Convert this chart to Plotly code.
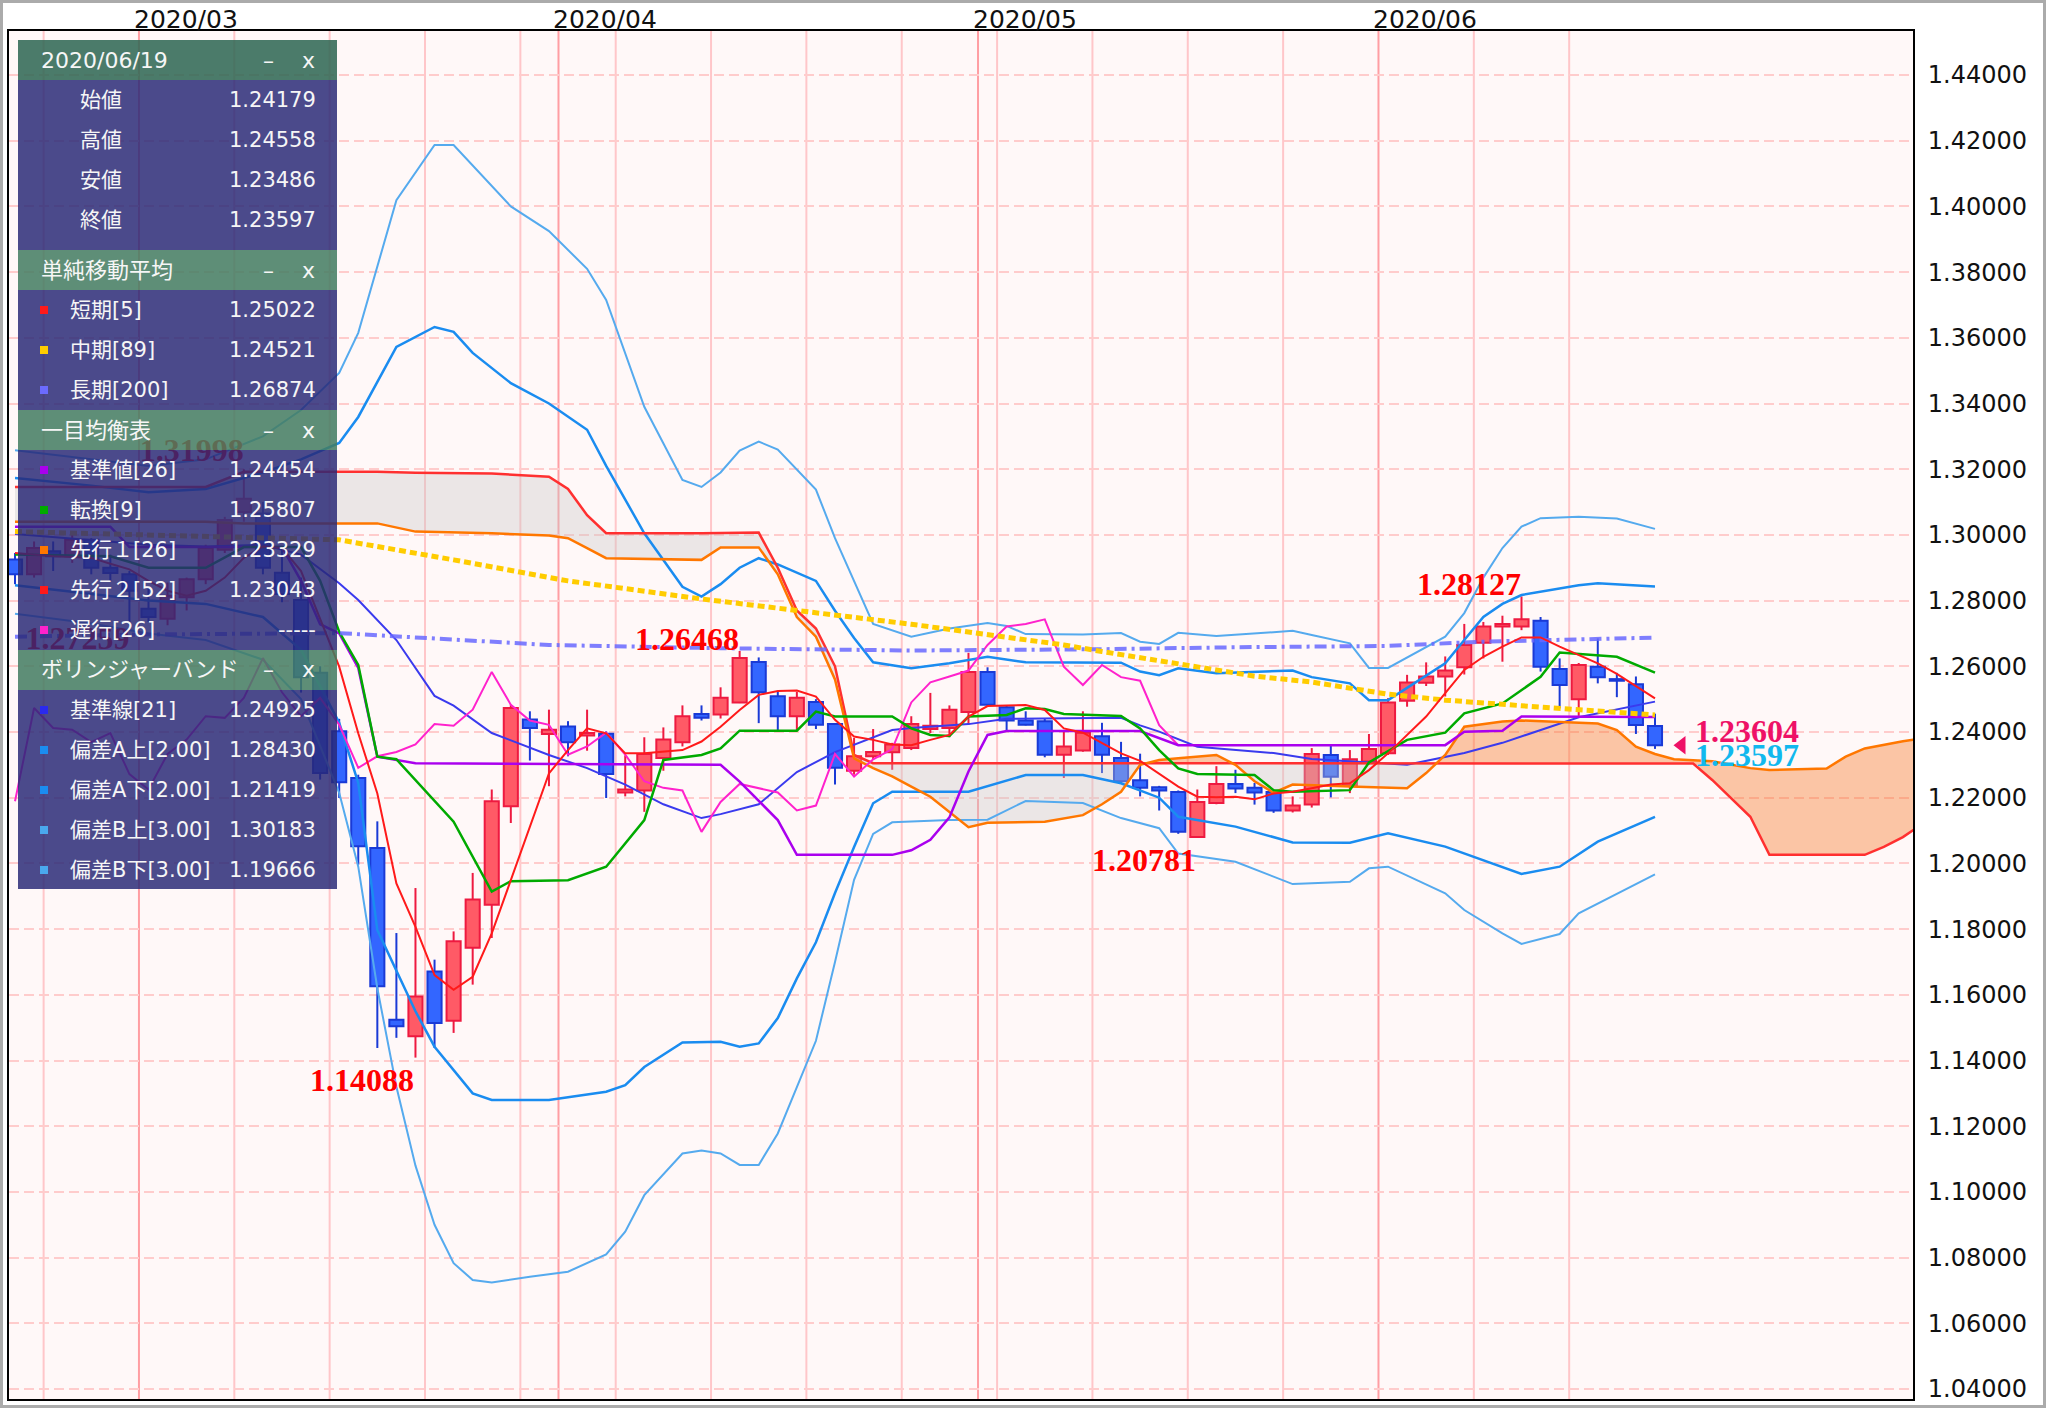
import numpy as np
import pandas as pd
import plotly.graph_objects as go

# ------------------------------------------------------------------
# Data (GBP/USD daily)
# x positions are trading-day offsets from 2020/03/02
# ------------------------------------------------------------------
dates = pd.bdate_range("2020-02-20", "2020-06-19")
day_pos = np.arange(len(dates)) - list(dates).index(pd.Timestamp("2020-03-02"))

opens = [1.2925, 1.2880, 1.2950, 1.2935, 1.2985, 1.2900, 1.2880,
         1.2775, 1.2745, 1.2810, 1.2865, 1.2955, 1.3070, 1.3065, 1.2885, 1.2802, 1.2580,
         1.2402, 1.2260, 1.2047, 1.1524, 1.1474, 1.1671, 1.1521, 1.1743, 1.1874, 1.2174,
         1.2438, 1.2394, 1.2417, 1.2389, 1.2395, 1.2216, 1.2222, 1.2321, 1.2369, 1.2455,
         1.2453, 1.2490, 1.2613, 1.2509, 1.2448, 1.2491, 1.2424, 1.2282, 1.2326, 1.2338,
         1.2351, 1.2409, 1.2412, 1.2461, 1.2583, 1.2475, 1.2435, 1.2433, 1.2331, 1.2344,
         1.2387, 1.2321, 1.2253, 1.2232, 1.2217, 1.2080, 1.2184, 1.2242, 1.2230, 1.2217,
         1.2161, 1.2179, 1.2330, 1.2239, 1.2310, 1.2335, 1.2495, 1.2550, 1.2569, 1.2597,
         1.2672, 1.2721, 1.2721, 1.2739, 1.2592, 1.2500, 1.2599, 1.2561, 1.2545, 1.24179]
highs = [1.2945, 1.2980, 1.2980, 1.3010, 1.2990, 1.2940, 1.2890,
         1.2840, 1.2855, 1.2870, 1.2970, 1.3055, 1.31998, 1.3100, 1.2960, 1.2870, 1.2600,
         1.2440, 1.2270, 1.2128, 1.1788, 1.1925, 1.1707, 1.1793, 1.1971, 1.2225, 1.2483,
         1.2463, 1.2468, 1.2433, 1.2468, 1.2402, 1.2329, 1.2384, 1.2414, 1.2481, 1.2481,
         1.2536, 1.26468, 1.2627, 1.2524, 1.2522, 1.2500, 1.2427, 1.2382, 1.2409, 1.2367,
         1.2448, 1.2519, 1.2481, 1.2641, 1.2597, 1.2480, 1.2463, 1.2440, 1.2400, 1.2463,
         1.2428, 1.2370, 1.2334, 1.2236, 1.2222, 1.2225, 1.2296, 1.2285, 1.2245, 1.2225,
         1.2204, 1.2351, 1.2360, 1.2345, 1.2394, 1.2503, 1.2574, 1.2612, 1.2630, 1.2729,
         1.2735, 1.2754, 1.28127, 1.2750, 1.2624, 1.2610, 1.2685, 1.2580, 1.2569, 1.24558]
lows = [1.2850, 1.2870, 1.2890, 1.2915, 1.2880, 1.2860, 1.27259,
        1.2735, 1.2725, 1.2770, 1.2850, 1.2945, 1.3040, 1.2880, 1.2795, 1.2520, 1.2255,
        1.2199, 1.1996, 1.1438, 1.1469, 1.14088, 1.1438, 1.1484, 1.1631, 1.1773, 1.2123,
        1.2313, 1.2235, 1.2326, 1.2343, 1.2199, 1.2204, 1.2157, 1.2282, 1.2356, 1.2435,
        1.2441, 1.2488, 1.2427, 1.2402, 1.2404, 1.2409, 1.2240, 1.2270, 1.2317, 1.2285,
        1.2345, 1.2397, 1.2384, 1.2422, 1.2478, 1.2402, 1.2420, 1.2323, 1.2260, 1.2340,
        1.2275, 1.2245, 1.2204, 1.2161, 1.2090, 1.20781, 1.2180, 1.2214, 1.2179, 1.2154,
        1.2155, 1.2170, 1.2201, 1.2214, 1.2300, 1.2330, 1.2477, 1.2540, 1.2508, 1.2575,
        1.2624, 1.2614, 1.2710, 1.2584, 1.2472, 1.2449, 1.2548, 1.2506, 1.2394, 1.23486]
closes = [1.2880, 1.2960, 1.2935, 1.2985, 1.2900, 1.2884, 1.2830,
          1.2750, 1.2815, 1.2865, 1.2960, 1.3045, 1.3110, 1.2900, 1.2820, 1.2567, 1.2275,
          1.2247, 1.2052, 1.1626, 1.1504, 1.1595, 1.1514, 1.1763, 1.1890, 1.2189, 1.2473,
          1.2412, 1.2407, 1.2369, 1.2397, 1.2272, 1.2225, 1.2333, 1.2377, 1.2448, 1.2443,
          1.2504, 1.2625, 1.2521, 1.2448, 1.2504, 1.2422, 1.2291, 1.2326, 1.2339, 1.2362,
          1.2424, 1.2419, 1.2468, 1.2583, 1.2483, 1.2435, 1.2422, 1.2331, 1.2356, 1.2398,
          1.2331, 1.2250, 1.2230, 1.2222, 1.2096, 1.2187, 1.2242, 1.2228, 1.2216, 1.2161,
          1.2176, 1.2333, 1.2264, 1.2317, 1.2348, 1.2490, 1.2551, 1.2569, 1.2587, 1.2665,
          1.2721, 1.2729, 1.2743, 1.2599, 1.2543, 1.2604, 1.2567, 1.2556, 1.2421, 1.23597]

# simple moving averages
sma5_x = list(range(-7, 80))
sma5_y = [1.2945, 1.2940, 1.2935, 1.2933, 1.2930, 1.2912, 1.2895,
          1.2860, 1.2830, 1.2815, 1.2830, 1.2870, 1.2930, 1.2965, 1.2960, 1.2890, 1.2745,
          1.2599, 1.2396, 1.2213, 1.1939, 1.1807, 1.1660, 1.1615, 1.1655, 1.1787, 1.1949,
          1.2112, 1.2274, 1.2345, 1.2411, 1.2396, 1.2335, 1.2335, 1.2340, 1.2345, 1.2371,
          1.2416, 1.2467, 1.2513, 1.2525, 1.2526, 1.2508, 1.2437, 1.2386, 1.2376, 1.2362,
          1.2360, 1.2376, 1.2391, 1.2447, 1.2479, 1.2481, 1.2482, 1.2467, 1.2411, 1.2398,
          1.2366, 1.2335, 1.2312, 1.2274, 1.2234, 1.2203, 1.2201, 1.2203, 1.2195, 1.2213,
          1.2218, 1.2229, 1.2240, 1.2244, 1.2284, 1.2335, 1.2391, 1.2447, 1.2518, 1.2589,
          1.2629, 1.2660, 1.2688, 1.2688, 1.2660, 1.2634, 1.2609, 1.2577, 1.2540, 1.25022]
sma89_x = [-7, 0, 10, 16, 22, 29, 34, 40, 48, 50, 58, 61, 65, 68, 72, 79]
sma89_y = [1.3010, 1.3000, 1.2985, 1.2924, 1.2860, 1.2805, 1.2771, 1.2728, 1.2665,
           1.2645, 1.2570, 1.2552, 1.2515, 1.2497, 1.2480, 1.24521]
sma200_x = [-7, 0, 10, 15, 21, 30, 40, 45, 50, 57, 65, 70, 75, 79]
sma200_y = [1.2690, 1.2697, 1.2701, 1.2685, 1.2665, 1.2655, 1.2648, 1.2650, 1.2652,
            1.2658, 1.2662, 1.2675, 1.2682, 1.26874]

# ichimoku
tenkan_x = [-7, -2, 0, 3, 5, 8, 9, 10, 11, 12, 13, 14, 16, 18, 19, 22, 24, 26, 27, 29, 30,
            31, 34, 35, 36, 39, 40, 41, 42, 43, 45, 46, 47, 48, 51, 52, 53, 54, 55, 58, 59,
            60, 63, 64, 66, 68, 69, 71, 73, 74, 77, 79]
tenkan_y = [1.2940, 1.2935, 1.2900, 1.2900, 1.2963, 1.2963, 1.2860, 1.2705, 1.2604, 1.2325,
            1.2317, 1.2254, 1.2127, 1.1914, 1.1946, 1.1949, 1.1990, 1.2132, 1.2315, 1.2330,
            1.2350, 1.2404, 1.2404, 1.2462, 1.2447, 1.2447, 1.2411, 1.2391, 1.2388, 1.2447,
            1.2452, 1.2472, 1.2470, 1.2455, 1.2449, 1.2411, 1.2345, 1.2289, 1.2272, 1.2269,
            1.2223, 1.2218, 1.2223, 1.2307, 1.2376, 1.2398, 1.2457, 1.2487, 1.2568, 1.2642,
            1.2629, 1.25807]
kijun_x = [-7, -2, -1, 7, 8, 9, 10, 11, 12, 14, 30, 31, 33, 34, 39, 40, 41, 42, 43, 44, 45,
           52, 54, 68, 69, 71, 72, 79]
kijun_y = [1.3025, 1.3025, 1.2963, 1.2963, 1.2860, 1.2728, 1.2700, 1.2595, 1.2325, 1.2305,
           1.2300, 1.2249, 1.2132, 1.2026, 1.2026, 1.2040, 1.2072, 1.2140, 1.2280, 1.2391,
           1.2403, 1.2403, 1.2360, 1.2360, 1.2401, 1.2404, 1.2447, 1.24454]
chikou_x = list(range(-7, 55))
chikou_y = [1.2189, 1.2473, 1.2412, 1.2407, 1.2369, 1.2397, 1.2272, 1.2225, 1.2333, 1.2377,
            1.2448, 1.2443, 1.2504, 1.2625, 1.2521, 1.2448, 1.2504, 1.2422, 1.2291, 1.2326,
            1.2339, 1.2362, 1.2424, 1.2419, 1.2468, 1.2583, 1.2483, 1.2435, 1.2422, 1.2331,
            1.2356, 1.2398, 1.2331, 1.2250, 1.2230, 1.2222, 1.2096, 1.2187, 1.2242, 1.2228,
            1.2216, 1.2161, 1.2176, 1.2333, 1.2264, 1.2317, 1.2348, 1.2490, 1.2551, 1.2569,
            1.2587, 1.2665, 1.2721, 1.2729, 1.2743, 1.2599, 1.2543, 1.2604, 1.2567, 1.2556,
            1.2421, 1.23597]
cloud_x = [-7, 3, 5, 12, 14, 18, 21, 22, 23, 24, 29, 30, 32, 33, 34, 35, 36, 37, 38, 39,
           40, 41, 43, 44, 47, 49, 50, 51, 52, 53, 54, 56, 57, 58, 59, 60, 63, 66, 67, 68,
           69, 71, 72, 76, 77, 78, 79, 80, 81, 82, 84, 85, 88, 89, 90, 91, 92, 93]
senkou_a = [1.3040, 1.3040, 1.3035, 1.3035, 1.3010, 1.3005, 1.2998, 1.2990, 1.2960, 1.2929,
            1.2924, 1.2962, 1.2962, 1.2880, 1.2750, 1.2690, 1.2560, 1.2320, 1.2290, 1.2265,
            1.2234, 1.2203, 1.2110, 1.2124, 1.2127, 1.2147, 1.2180, 1.2218, 1.2300, 1.2315,
            1.2320, 1.2330, 1.2300, 1.2250, 1.2215, 1.2240, 1.2234, 1.2229, 1.2275, 1.2330,
            1.2416, 1.2432, 1.2435, 1.2426, 1.2406, 1.2355, 1.23329, 1.2317, 1.2314, 1.2311,
            1.2290, 1.2284, 1.2289, 1.2325, 1.2350, 1.2362, 1.2372, 1.2380]
senkou_b = [1.3146, 1.3146, 1.3192, 1.3192, 1.3189, 1.3187, 1.3177, 1.3140, 1.3060, 1.3005,
            1.3005, 1.3006, 1.3007, 1.2900, 1.2770, 1.2715, 1.2600, 1.2330, 1.2305, 1.2305,
            1.2305, 1.2305, 1.2305, 1.2305, 1.2305, 1.2305, 1.2305, 1.2305, 1.2305, 1.2305,
            1.2305, 1.2305, 1.2305, 1.2305, 1.2305, 1.2305, 1.2305, 1.2305, 1.2305, 1.2305,
            1.2305, 1.2305, 1.2305, 1.2305, 1.2305, 1.2305, 1.23043, 1.2304, 1.2304, 1.2254,
            1.2142, 1.2026, 1.2026, 1.2026, 1.2026, 1.2050, 1.2080, 1.2120]

# bollinger bands
bb_mid_x = [-7, -3, 0, 3, 6, 8, 10, 11, 13, 15, 16, 18, 19, 21, 23, 25, 27, 29, 30, 32, 34,
            36, 39, 40, 43, 45, 51, 52, 53, 55, 59, 61, 66, 69, 71, 75, 79]
bb_mid_y = [1.3003, 1.2985, 1.2970, 1.2965, 1.2970, 1.2940, 1.2853, 1.2802, 1.2680, 1.2510,
            1.2480, 1.2397, 1.2375, 1.2330, 1.2290, 1.2240, 1.2180, 1.2138, 1.2150, 1.2180,
            1.2278, 1.2339, 1.2406, 1.2412, 1.2424, 1.2440, 1.2443, 1.2420, 1.2401, 1.2355,
            1.2336, 1.2318, 1.2300, 1.2336, 1.2367, 1.2445, 1.24925]
bb_up2_x = [-7, -3, 0, 3, 6, 8, 10, 11, 13, 15, 16, 17, 19, 21, 23, 24, 26, 28, 29, 30, 31,
            32, 33, 34, 35, 36, 37, 38, 40, 42, 44, 46, 51, 52, 53, 54, 56, 60, 61, 63, 64,
            65, 68, 69, 70, 71, 72, 75, 76, 79]
bb_up2_y = [1.3173, 1.3150, 1.3130, 1.3140, 1.3190, 1.3230, 1.3280, 1.3359, 1.3572, 1.3633,
            1.3618, 1.3554, 1.3462, 1.3400, 1.3320, 1.3210, 1.3005, 1.2842, 1.2812, 1.2850,
            1.2900, 1.2929, 1.2910, 1.2885, 1.2860, 1.2769, 1.2686, 1.2612, 1.2594, 1.2609,
            1.2629, 1.2612, 1.2611, 1.2584, 1.2573, 1.2594, 1.2579, 1.2587, 1.2567, 1.2548,
            1.2497, 1.2497, 1.2609, 1.2680, 1.2750, 1.2790, 1.2817, 1.2847, 1.2853, 1.28430]
bb_up3_x = [-7, -3, 0, 3, 6, 8, 10, 11, 13, 15, 16, 19, 21, 23, 24, 26, 28, 29, 30, 31, 32,
            33, 35, 36, 38, 40, 42, 44, 45, 46, 49, 51, 52, 53, 54, 56, 60, 61, 63, 64, 65,
            68, 69, 70, 71, 72, 73, 75, 77, 79]
bb_up3_y = [1.3258, 1.3230, 1.3210, 1.3230, 1.3300, 1.3380, 1.3493, 1.3615, 1.4019, 1.4187,
            1.4187, 1.4000, 1.3925, 1.3810, 1.3715, 1.3390, 1.3167, 1.3146, 1.3190, 1.3257,
            1.3284, 1.3260, 1.3138, 1.2990, 1.2729, 1.2690, 1.2715, 1.2732, 1.2723, 1.2698,
            1.2697, 1.2701, 1.2675, 1.2668, 1.2702, 1.2692, 1.2708, 1.2695, 1.2670, 1.2595,
            1.2595, 1.2690, 1.2762, 1.2870, 1.2960, 1.3025, 1.3051, 1.3055, 1.3050, 1.30183]
bb_lo2_x = [-7, -3, 0, 3, 6, 8, 10, 11, 12, 14, 15, 17, 18, 21, 24, 25, 26, 28, 30, 31, 32,
            33, 34, 35, 36, 37, 38, 39, 43, 46, 49, 51, 53, 54, 57, 60, 63, 65, 68, 72, 74,
            76, 79]
bb_lo2_y = [1.2847, 1.2820, 1.2800, 1.2790, 1.2750, 1.2650, 1.2428, 1.2245, 1.1797, 1.1550,
            1.1442, 1.1300, 1.1280, 1.1280, 1.1305, 1.1325, 1.1380, 1.1455, 1.1457, 1.1442,
            1.1452, 1.1529, 1.1650, 1.1760, 1.1910, 1.2050, 1.2183, 1.2218, 1.2218, 1.2269,
            1.2269, 1.2244, 1.2200, 1.2142, 1.2112, 1.2064, 1.2063, 1.2092, 1.2051, 1.1968,
            1.1990, 1.2066, 1.21419]
bb_lo3_x = [-7, -3, 0, 3, 6, 8, 10, 11, 12, 13, 14, 15, 16, 17, 18, 20, 22, 24, 25, 26, 28,
            29, 30, 31, 32, 33, 35, 36, 37, 38, 39, 42, 44, 46, 49, 51, 53, 54, 57, 60, 63,
            64, 65, 68, 69, 71, 72, 74, 75, 79]
bb_lo3_y = [1.2760, 1.2730, 1.2700, 1.2680, 1.2620, 1.2500, 1.2215, 1.1990, 1.1620, 1.1320,
            1.1080, 1.0900, 1.0783, 1.0732, 1.0724, 1.0742, 1.0757, 1.0810, 1.0879, 1.0990,
            1.1117, 1.1126, 1.1117, 1.1082, 1.1082, 1.1178, 1.1460, 1.1700, 1.1950, 1.2090,
            1.2125, 1.2132, 1.2133, 1.2190, 1.2184, 1.2138, 1.2107, 1.2030, 1.2005, 1.1937,
            1.1944, 1.1985, 1.1990, 1.1909, 1.1858, 1.1787, 1.1755, 1.1785, 1.1848, 1.19666]

# highest / lowest markers
hl_x = [5, -1, 14, 31, 55, 72]
hl_price = [1.31998, 1.27259, 1.14088, 1.26468, 1.20781, 1.28127]
hl_kind = ["high", "low", "low", "high", "low", "high"]

last_ask = 1.23604
last_bid = 1.23597

month_labels = ["2020/03", "2020/04", "2020/05", "2020/06"]
y_ticks = [1.04 + 0.02 * k for k in range(21)]

panel_sections = [
    ("2020/06/19", [(None, "始値", "1.24179"), (None, "高値", "1.24558"),
                    (None, "安値", "1.23486"), (None, "終値", "1.23597")]),
    ("単純移動平均", [("#ff1a1a", "短期[5]", "1.25022"), ("#ffcc00", "中期[89]", "1.24521"),
                     ("#6b6bff", "長期[200]", "1.26874")]),
    ("一目均衡表", [("#aa00ee", "基準値[26]", "1.24454"), ("#00aa00", "転換[9]", "1.25807"),
                    ("#ff7700", "先行１[26]", "1.23329"), ("#ff1a1a", "先行２[52]", "1.23043"),
                    ("#ff22cc", "遅行[26]", "-----")]),
    ("ボリンジャーバンド", [("#2a2aee", "基準線[21]", "1.24925"),
                          ("#1a8cf0", "偏差A上[2.00]", "1.28430"),
                          ("#1a8cf0", "偏差A下[2.00]", "1.21419"),
                          ("#4aa8ee", "偏差B上[3.00]", "1.30183"),
                          ("#4aa8ee", "偏差B下[3.00]", "1.19666")]),
]

# ------------------------------------------------------------------
# Geometry / style
# ------------------------------------------------------------------
W, H = 2046, 1408
PL, PR, PT, PB = 9, 1913, 31, 1399
X_RANGE = [-7.315, 92.53]
Y_RANGE = [1.036956, 1.453394]
P_X0, P_X1 = 18, 337          # info panel (pixels)


def pxx(px):
    return (px - PL) / (PR - PL)


def pxy(py):
    return 1 - (py - PT) / (PB - PT)


def data_to_px(x):
    return PL + (x - X_RANGE[0]) / (X_RANGE[1] - X_RANGE[0]) * (PR - PL)


fig = go.Figure()

# ---------------- candles ----------------
o, h, l, c = map(np.array, (opens, highs, lows, closes))
up = c >= o
b_lo = np.minimum(o, c)
b_hi = np.maximum(o, c)
b_h = np.maximum(b_hi - b_lo, 0.00006)


def wick_xy(mask):
    xs, ys = [], []
    for xi, hi, bh, bl, lo in zip(day_pos[mask], h[mask], b_hi[mask], b_lo[mask], l[mask]):
        xs += [xi, xi, None, xi, xi, None]
        ys += [hi, bh, None, bl, lo, None]
    return xs, ys


UP_FILL, UP_LINE = "#ff5a66", "#ee1a40"
DN_FILL, DN_LINE = "#3366ff", "#1a3ad6"
for mask, lc in ((up, UP_LINE), (~up, DN_LINE)):
    wx, wy = wick_xy(mask)
    fig.add_trace(go.Scatter(x=wx, y=wy, mode="lines", line=dict(color=lc, width=2),
                             hoverinfo="skip"))
for mask, fc, lc in ((up, UP_FILL, UP_LINE), (~up, DN_FILL, DN_LINE)):
    fig.add_trace(go.Bar(x=day_pos[mask], y=b_h[mask], base=b_lo[mask], width=0.74,
                         marker=dict(color=fc, line=dict(color=lc, width=2)),
                         hoverinfo="skip"))

# ---------------- cloud ----------------
cx, ca, cb = [cloud_x[0]], [senkou_a[0]], [senkou_b[0]]
for k in range(1, len(cloud_x)):
    d0 = senkou_a[k - 1] - senkou_b[k - 1]
    d1 = senkou_a[k] - senkou_b[k]
    if d0 * d1 < 0:
        t = d0 / (d0 - d1)
        xc = cloud_x[k - 1] + t * (cloud_x[k] - cloud_x[k - 1])
        yc = senkou_a[k - 1] + t * (senkou_a[k] - senkou_a[k - 1])
        cx.append(xc); ca.append(yc); cb.append(yc)
    cx.append(cloud_x[k]); ca.append(senkou_a[k]); cb.append(senkou_b[k])
cm = list(np.maximum(ca, cb))
fig.add_trace(go.Scatter(x=cx, y=ca, mode="lines", line=dict(width=0), hoverinfo="skip"))
fig.add_trace(go.Scatter(x=cx, y=cm, mode="lines", line=dict(width=0), fill="tonexty",
                         fillcolor="rgba(200,200,200,0.36)", hoverinfo="skip"))
fig.add_trace(go.Scatter(x=cx, y=cb, mode="lines", line=dict(width=0), hoverinfo="skip"))
fig.add_trace(go.Scatter(x=cx, y=cm, mode="lines", line=dict(width=0), fill="tonexty",
                         fillcolor="rgba(245,120,40,0.40)", hoverinfo="skip"))


def add_line(x, y, color, width, dash="solid"):
    fig.add_trace(go.Scatter(x=x, y=y, mode="lines",
                             line=dict(color=color, width=width, dash=dash),
                             hoverinfo="skip"))


# bollinger
add_line(bb_up3_x, bb_up3_y, "#55aaee", 2)
add_line(bb_lo3_x, bb_lo3_y, "#55aaee", 2)
add_line(bb_up2_x, bb_up2_y, "#1a8cf0", 2.5)
add_line(bb_lo2_x, bb_lo2_y, "#1a8cf0", 2.5)
add_line(bb_mid_x, bb_mid_y, "#3a3aee", 2)
# ichimoku
add_line(cloud_x, senkou_b, "#ff3030", 2.5)
add_line(cloud_x, senkou_a, "#ff7700", 2.5)
add_line(chikou_x, chikou_y, "#ff22cc", 2)
add_line(kijun_x, kijun_y, "#aa00ee", 2.5)
add_line(tenkan_x, tenkan_y, "#00aa00", 2.5)
# moving averages
add_line(sma200_x, sma200_y, "rgba(105,105,255,0.85)", 4, "12px,5px,3px,5px")
add_line(sma89_x, sma89_y, "#ffcc00", 5, "7px,4px")
add_line(sma5_x, sma5_y, "#ff1a1a", 2)

annotations = []
LBL_FONT = dict(family="Liberation Serif", size=32, color="#ff0000", weight="bold")

# highest / lowest labels: those under the info panel are drawn as text traces
# (so the translucent panel covers them), the others as annotations.
hidden = [data_to_px(x) < P_X1 for x in hl_x]
for kind in ("high", "low"):
    sel = [k == kind and hd for k, hd in zip(hl_kind, hidden)]
    xs = [x for x, s in zip(hl_x, sel) if s]
    ps = [p for p, s in zip(hl_price, sel) if s]
    if xs:
        fig.add_trace(go.Scatter(
            x=xs, y=ps, mode="text", text=[f"{p:.5f}" for p in ps],
            textposition="top left" if kind == "high" else "bottom left",
            textfont=LBL_FONT, hoverinfo="skip", cliponaxis=False))
for x, p, k, hd in zip(hl_x, hl_price, hl_kind, hidden):
    if hd:
        continue
    annotations.append(dict(x=x, y=p, xref="x", yref="y", text=f"{p:.5f}", showarrow=False,
                            xanchor="right", yanchor="bottom" if k == "high" else "top",
                            xshift=1, yshift=-8 if k == "high" else -2, font=LBL_FONT))

# last price marker
last_x = day_pos[-1]
fig.add_trace(go.Scatter(x=[last_x + 1.39], y=[closes[-1]], mode="markers",
                         marker=dict(symbol="triangle-left", size=16, color="#ee1166"),
                         hoverinfo="skip"))
annotations += [
    dict(x=last_x, y=closes[-1], xref="x", yref="y", text=f"{last_ask:.5f}", showarrow=False,
         xanchor="left", yanchor="bottom", xshift=38, yshift=-6,
         font=dict(family="Liberation Serif", size=32, color="#ee1166", weight="bold")),
    dict(x=last_x, y=closes[-1], xref="x", yref="y", text=f"{last_bid:.5f}", showarrow=False,
         xanchor="left", yanchor="top", xshift=38, yshift=10,
         font=dict(family="Liberation Serif", size=32, color="#11b8ee", weight="bold")),
]

# ---------------- grid lines (vertical) + month labels ----------------
shapes = []
month_pos = []
for m in month_labels:
    start = pd.Timestamp(m.replace("/", "-") + "-01")
    month_pos.append(day_pos[int(np.argmax(dates >= start))] - 0.5)
week_pos = [p - 0.5 for p, d in zip(day_pos, dates) if d.weekday() == 0]
for p in week_pos:
    if p not in month_pos:
        shapes.append(dict(type="line", xref="x", yref="paper", x0=p, x1=p, y0=0, y1=1,
                           line=dict(color="#ffc6c9", width=2), layer="below"))
for p, lab in zip(month_pos, month_labels):
    shapes.append(dict(type="line", xref="x", yref="paper", x0=p, x1=p, y0=0, y1=1,
                       line=dict(color="#ff9ea3", width=2), layer="below"))
    annotations.append(dict(x=p, y=1, xref="x", yref="paper", text=lab, showarrow=False,
                            xanchor="left", yanchor="bottom", xshift=-7, yshift=-5,
                            font=dict(family="DejaVu Sans", size=25, color="#111111")))

# ---------------- info panel ----------------
HDR_H, ROW_H = 40, 40
BODY = "rgba(40,40,118,0.84)"
HDR_FIRST = "rgba(50,105,85,0.88)"
HDR = "rgba(68,125,98,0.86)"
FONT = "DejaVu Sans, Noto Sans CJK JP"
WHITE = "#f6f6f6"
yc = 40
for si, (title, rows) in enumerate(panel_sections):
    shapes.append(dict(type="rect", xref="paper", yref="paper", x0=pxx(P_X0), x1=pxx(P_X1),
                       y0=pxy(yc + HDR_H), y1=pxy(yc), fillcolor=HDR_FIRST if si == 0 else HDR,
                       line=dict(width=0), layer="above"))
    mid = yc + HDR_H / 2
    annotations.append(dict(x=pxx(39), y=pxy(mid), xref="paper", yref="paper", text=title,
                            showarrow=False, xanchor="left", yanchor="middle",
                            font=dict(family=FONT, size=22, color=WHITE)))
    annotations.append(dict(x=pxx(268), y=pxy(mid), xref="paper", yref="paper", text="–",
                            showarrow=False, xanchor="center", yanchor="middle",
                            font=dict(family=FONT, size=22, color=WHITE)))
    annotations.append(dict(x=pxx(308), y=pxy(mid), xref="paper", yref="paper", text="x",
                            showarrow=False, xanchor="center", yanchor="middle",
                            font=dict(family=FONT, size=22, color=WHITE)))
    yc += HDR_H
    body_h = ROW_H * len(rows) + (10 if si == 0 else 0)
    if si == len(panel_sections) - 1:
        body_h -= 1
    shapes.append(dict(type="rect", xref="paper", yref="paper", x0=pxx(P_X0), x1=pxx(P_X1),
                       y0=pxy(yc + body_h), y1=pxy(yc), fillcolor=BODY,
                       line=dict(width=0), layer="above"))
    for ri, (col, lab, val) in enumerate(rows):
        ry = yc + ROW_H * ri + ROW_H / 2
        if col is not None:
            shapes.append(dict(type="rect", xref="paper", yref="paper", x0=pxx(40), x1=pxx(48),
                               y0=pxy(ry + 4), y1=pxy(ry - 4), fillcolor=col,
                               line=dict(width=0), layer="above"))
        annotations.append(dict(x=pxx(78 if col is None else 68), y=pxy(ry), xref="paper",
                                yref="paper", text=lab, showarrow=False, xanchor="left",
                                yanchor="middle", font=dict(family=FONT, size=21, color=WHITE)))
        annotations.append(dict(x=pxx(318), y=pxy(ry), xref="paper", yref="paper", text=val,
                                showarrow=False, xanchor="right", yanchor="middle",
                                font=dict(family=FONT, size=21, color=WHITE)))
    yc += body_h

# outer gray frame
shapes.append(dict(type="rect", xref="paper", yref="paper", x0=pxx(1.5), x1=pxx(W - 1.5),
                   y0=pxy(H - 1.5), y1=pxy(1.5), line=dict(color="#ababab", width=3),
                   fillcolor="rgba(0,0,0,0)", layer="above"))

fig.update_layout(
    width=W, height=H,
    margin=dict(l=PL, r=W - PR, t=PT, b=H - PB, autoexpand=False),
    paper_bgcolor="white", plot_bgcolor="#fff8f8",
    showlegend=False, hovermode=False, barmode="overlay",
    shapes=shapes, annotations=annotations,
    xaxis=dict(range=X_RANGE, showticklabels=False, ticks="",
               showgrid=False, zeroline=False, showline=True, mirror=True,
               linecolor="black", linewidth=2, fixedrange=True,
               rangeslider=dict(visible=False)),
    yaxis=dict(range=Y_RANGE, side="right", tickmode="array", tickvals=y_ticks,
               ticktext=[f"{v:.5f}" for v in y_ticks],
               ticks="outside", ticklen=8, tickcolor="rgba(0,0,0,0)",
               tickfont=dict(family="DejaVu Sans", size=24, color="#111111"),
               showgrid=True, gridcolor="#ffcccc", gridwidth=2, griddash="10px,5px",
               zeroline=False, showline=True, mirror=True, linecolor="black",
               linewidth=2, fixedrange=True),
)

fig.write_html("out.html", config={"displayModeBar": False},
               post_script="document.body.style.margin='0px';"
                           "document.body.style.overflow='hidden';")
